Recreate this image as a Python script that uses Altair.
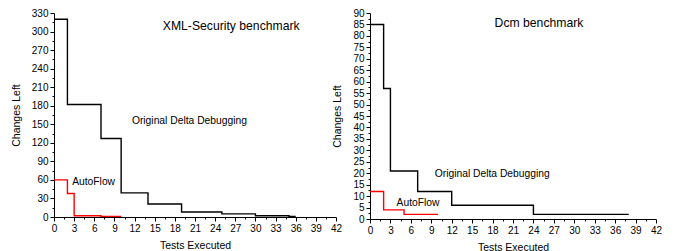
import altair as alt
import pandas as pd

# Left panel: XML-Security benchmark
xml_dd_x = [0, 2, 7, 10, 14, 19, 25, 30, 35, 36]
xml_dd_y = [320, 182, 127, 39, 21, 8, 5, 2, 1, 1]
xml_af_x = [0, 2, 3, 7, 10]
xml_af_y = [60, 38, 2, 1, 1]

# Right panel: Dcm benchmark
dcm_dd_x = [0, 2, 3, 7, 12, 24, 38]
dcm_dd_y = [85, 57, 21, 12, 6, 2, 2]
dcm_af_x = [0, 2, 5, 10]
dcm_af_y = [12, 4, 2, 2]

xml_labels = ["XML-Security benchmark", "Original Delta Debugging", "AutoFlow"]
xml_label_x = [16.2, 11.6, 2.7]
xml_label_y = [309, 156, 56]
xml_label_size = [12.2, 10.3, 10.3]

dcm_labels = ["Dcm benchmark", "Original Delta Debugging", "AutoFlow"]
dcm_label_x = [18.3, 9.5, 3.9]
dcm_label_y = [85.7, 19.5, 7.2]
dcm_label_size = [12.2, 10.3, 10.3]

FONT = "Liberation Sans"


def panel(dd_x, dd_y, af_x, af_y, labels, lx, ly, ls, ymax, ystep, width, height):
    df = pd.DataFrame({
        "x": dd_x + af_x,
        "y": dd_y + af_y,
        "series": ["Original Delta Debugging"] * len(dd_x) + ["AutoFlow"] * len(af_x),
    })
    xscale = alt.Scale(domain=[0, 42], nice=False, zero=True)
    yscale = alt.Scale(domain=[0, ymax], nice=False, zero=True)
    major_x = list(range(0, 43, 3))
    minor_x = [v + 1.5 for v in range(0, 42, 3)]
    major_y = list(range(0, ymax + 1, ystep))
    minor_y = [v + ystep / 2 for v in range(0, ymax, ystep)]

    lines = alt.Chart(df).mark_line(interpolate="step-after", strokeWidth=1.4).encode(
        x=alt.X("x:Q", scale=xscale, axis=alt.Axis(
            orient="bottom", title="Tests Executed", values=major_x, tickSize=4, labelFontSize=10,
            titleFontSize=10.5, titleFontWeight="normal", titlePadding=7,
            labelFlush=False, grid=False)),
        y=alt.Y("y:Q", scale=yscale, axis=alt.Axis(
            orient="left", title="Changes Left", values=major_y, tickSize=4, labelFontSize=10,
            titleFontSize=10.5, titleFontWeight="normal", titlePadding=10,
            labelFlush=False, grid=False)),
        color=alt.Color("series:N", scale=alt.Scale(
            domain=["Original Delta Debugging", "AutoFlow"], range=["#000000", "#ff0000"]),
            legend=None),
        detail="series:N",
    )

    minor = alt.Chart(df).mark_point(opacity=0).encode(
        x=alt.X("x:Q", scale=xscale, axis=alt.Axis(
            orient="bottom", title=None, values=minor_x, tickSize=2, labels=False,
            domain=False, grid=False)),
        y=alt.Y("y:Q", scale=yscale, axis=alt.Axis(
            orient="left", title=None, values=minor_y, tickSize=2, labels=False,
            domain=False, grid=False)),
    )

    tdf = pd.DataFrame({"t": labels, "x": lx, "y": ly, "s": ls})
    texts = alt.Chart(tdf).mark_text(align="left", baseline="middle", font=FONT, color="black").encode(
        x=alt.X("x:Q", scale=xscale, axis=None),
        y=alt.Y("y:Q", scale=yscale, axis=None),
        text="t:N",
        size=alt.Size("s:Q", scale=None, legend=None),
    )

    return alt.layer(lines, minor, texts).resolve_axis(x="independent", y="independent").properties(
        width=width, height=height)


left = panel(xml_dd_x, xml_dd_y, xml_af_x, xml_af_y, xml_labels, xml_label_x, xml_label_y,
             xml_label_size, 330, 30, 282, 204)
right = panel(dcm_dd_x, dcm_dd_y, dcm_af_x, dcm_af_y, dcm_labels, dcm_label_x, dcm_label_y,
              dcm_label_size, 90, 5, 286, 206)

chart = alt.hconcat(left, right, spacing=34, bounds="flush").properties(
    padding={"left": 3, "top": 0, "right": 0, "bottom": 0}
).configure_view(stroke=None).configure_axis(
    domainColor="black", tickColor="black", labelColor="black", titleColor="black",
    labelFont=FONT, titleFont=FONT, domainWidth=1, tickWidth=1,
).configure_text(font=FONT)

chart.save("out.html", embed_options={"renderer": "svg", "actions": False})
